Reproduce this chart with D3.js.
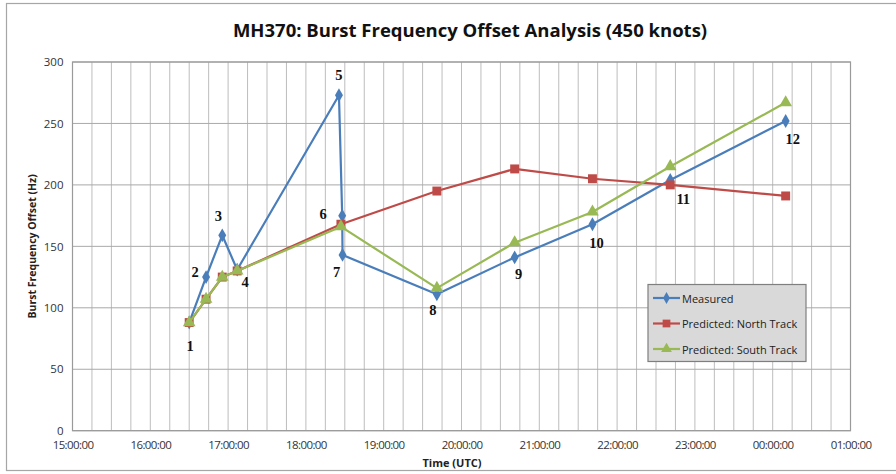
<!DOCTYPE html>
<html><head><meta charset="utf-8">
<script src="https://cdn.jsdelivr.net/npm/d3@7"></script>
<style>
body{margin:0;background:#fff;}
svg{display:block;font-family:Lato,"Open Sans",sans-serif;}
</style></head>
<body>
<svg id="c" width="896" height="474"></svg>
<script>
// ---- data ----
const measuredTimes = ["16:30:00","16:43:00","16:55:30","17:07:00","18:25:30","18:28:00","18:28:15","19:41:00","20:41:00","21:41:00","22:41:00","00:10:00"];
const measuredValues = [88,125,159,131,273,175,143,111,141,168,204,252];
const pointLabels = ["1","2","3","4","5","6","7","8","9","10","11","12"];
const predictedTimes = ["16:30:00","16:43:00","16:55:30","17:07:00","18:27:00","19:41:00","20:41:00","21:41:00","22:41:00","00:10:00"];
const northValues = [88,107,125,130,168,195,213,205,200,191];
const southValues = [88,107,125,130,166,116,153,178,215,267];
const seriesNames = ["Measured","Predicted: North Track","Predicted: South Track"];
const yTicks = [0,50,100,150,200,250,300];
const xTickLabels = ["15:00:00","16:00:00","17:00:00","18:00:00","19:00:00","20:00:00","21:00:00","22:00:00","23:00:00","00:00:00","01:00:00"];

// ---- layout ----
const svg = d3.select("#c");
const L = 72.5, R = 850.5, T = 62, B = 430.7;
const parse = s => {
  const [h,m,sec] = s.split(":").map(Number);
  const day = h < 12 ? 8 : 7;
  return new Date(2014,2,day,h,m,sec);
};
const x = d3.scaleTime().domain([new Date(2014,2,7,15,0,0), new Date(2014,2,8,1,0,0)]).range([L,R]);
const y = d3.scaleLinear().domain([0,300]).range([B,T]);

const colors = {blue:"#4a7ebb", red:"#be4b48", green:"#98b954"};

// outer frame
svg.append("rect").attr("x",6.5).attr("y",3.5).attr("width",895).attr("height",467)
  .attr("fill","#fff").attr("stroke","#a6a6a6").attr("stroke-width",1.2);

// title
svg.append("text").attr("x",470).attr("y",37).attr("text-anchor","middle")
  .attr("font-size",18.5).attr("font-weight","bold").attr("fill","#111")
  .attr("font-family","'Open Sans',Lato,sans-serif")
  .text("MH370: Burst Frequency Offset Analysis (450 knots)");

// gridlines
const g = svg.append("g");
const minorTicks = d3.timeMinute.every(15).range(x.domain()[0], new Date(x.domain()[1].getTime()+1));
g.selectAll("line.v").data(minorTicks).join("line")
  .attr("x1",d=>x(d)).attr("x2",d=>x(d)).attr("y1",T).attr("y2",B)
  .attr("stroke","#bdbdbd").attr("stroke-width",1);
g.selectAll("line.h").data(yTicks).join("line")
  .attr("x1",L).attr("x2",R).attr("y1",d=>y(d)).attr("y2",d=>y(d))
  .attr("stroke","#a9a9a9").attr("stroke-width",1);
g.append("rect").attr("x",L).attr("y",T).attr("width",R-L).attr("height",B-T)
  .attr("fill","none").attr("stroke","#9a9a9a").attr("stroke-width",1.2);

// axes
const yAxis = d3.axisLeft(y).tickValues(yTicks).tickSize(0).tickPadding(9);
const ya = svg.append("g").attr("transform",`translate(${L},0)`).call(yAxis);
ya.select(".domain").remove();
ya.selectAll("text").attr("font-size",11.5).attr("fill","#333").attr("font-family","'Open Sans',sans-serif");

const hourTicks = d3.timeHour.every(1).range(x.domain()[0], new Date(x.domain()[1].getTime()+1));
const xAxis = d3.axisBottom(x).tickValues(hourTicks).tickSize(0).tickPadding(10)
  .tickFormat((d,i)=>xTickLabels[i]);
const xa = svg.append("g").attr("transform",`translate(0,${B})`).call(xAxis);
xa.select(".domain").remove();
xa.selectAll("text").attr("font-size",11.5).attr("fill","#333").attr("font-family","'Open Sans',sans-serif").attr("letter-spacing","-0.6");

// axis titles
svg.append("text").attr("x",452).attr("y",467).attr("text-anchor","middle")
  .attr("font-size",11).attr("font-weight","bold").attr("fill","#222")
  .attr("font-family","'Open Sans',sans-serif").text("Time (UTC)");
svg.append("text").attr("transform",`translate(36,${(T+B)/2}) rotate(-90)`)
  .attr("text-anchor","middle").attr("font-size",10.5).attr("font-weight","bold").attr("fill","#222")
  .attr("font-family","'Open Sans',sans-serif").text("Burst Frequency Offset (Hz)");

// series
const line = d3.line().x(d=>x(d[0])).y(d=>y(d[1]));
const mData = measuredTimes.map((t,i)=>[parse(t),measuredValues[i]]);
const nData = predictedTimes.map((t,i)=>[parse(t),northValues[i]]);
const sData = predictedTimes.map((t,i)=>[parse(t),southValues[i]]);

function drawSeries(data,color,symbolType,size){
  svg.append("path").datum(data).attr("d",line).attr("fill","none")
    .attr("stroke",color).attr("stroke-width",2.2).attr("stroke-linejoin","round");
  svg.append("g").selectAll("path").data(data).join("path")
    .attr("transform",d=>`translate(${x(d[0])},${y(d[1])})`)
    .attr("d",d3.symbol().type(symbolType).size(size)).attr("fill",color);
}
drawSeries(mData,colors.blue,d3.symbolDiamond,55);
drawSeries(nData,colors.red,d3.symbolSquare,80);
drawSeries(sData,colors.green,d3.symbolTriangle,70);

// point number labels
const labelOffsets = [[1,23],[-11,-5],[-4,-19],[8,12],[0,-20],[-19,-2],[-6,17],[-4,16],[4,17],[4,19],[13,19],[7,18]];
svg.append("g").selectAll("text").data(mData).join("text")
  .attr("x",(d,i)=>x(d[0])+labelOffsets[i][0])
  .attr("y",(d,i)=>y(d[1])+labelOffsets[i][1])
  .attr("text-anchor","middle").attr("dominant-baseline","central")
  .attr("font-family","'Liberation Serif','DejaVu Serif',serif").attr("font-weight","bold")
  .attr("font-size",14.5).attr("fill","#111")
  .text((d,i)=>pointLabels[i]);

// legend
const lg = svg.append("g").attr("transform","translate(648,284.5)");
lg.append("rect").attr("width",158).attr("height",77).attr("fill","#d9d9d9")
  .attr("stroke","#7f7f7f").attr("stroke-width",1.2);
const legendItems = [
  {c:colors.blue,t:d3.symbolDiamond,s:40},
  {c:colors.red,t:d3.symbolSquare,s:60},
  {c:colors.green,t:d3.symbolTriangle,s:50}];
legendItems.forEach((it,i)=>{
  const yy = 13.5 + i*25.5;
  lg.append("line").attr("x1",5).attr("x2",32).attr("y1",yy).attr("y2",yy)
    .attr("stroke",it.c).attr("stroke-width",2.2);
  lg.append("path").attr("transform",`translate(18.5,${yy})`)
    .attr("d",d3.symbol().type(it.t).size(it.s)).attr("fill",it.c);
  lg.append("text").attr("x",34).attr("y",yy).attr("dominant-baseline","central")
    .attr("font-size",11).attr("fill","#222").attr("font-family","'Open Sans',sans-serif")
    .text(seriesNames[i]);
});
</script>
</body></html>
